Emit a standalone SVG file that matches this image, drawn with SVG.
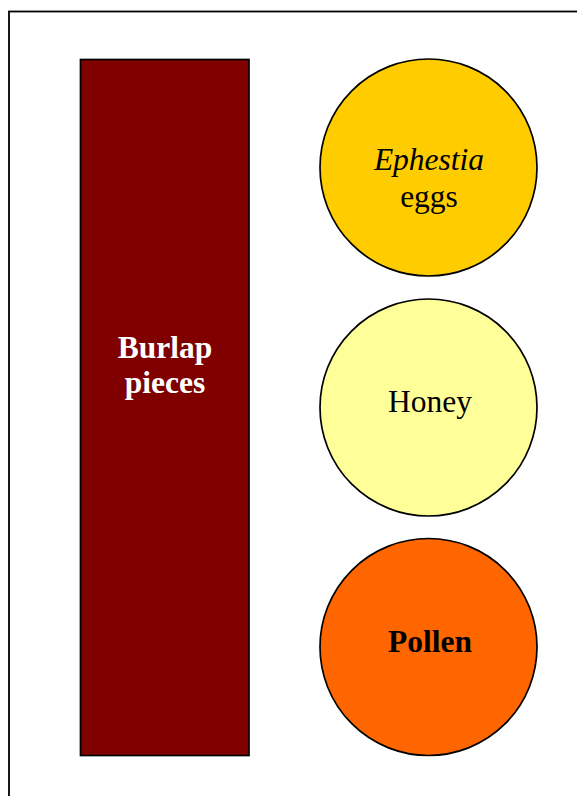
<svg xmlns="http://www.w3.org/2000/svg" width="577" height="796" viewBox="0 0 577 796">
<style>
.t{font-family:"Liberation Serif","Times New Roman",serif;font-size:31.5px;text-anchor:middle}
.c{stroke:#000;stroke-width:1.7}
</style>
<rect width="577" height="796" fill="#fff"/>
<rect x="9" y="11.5" width="600" height="820" fill="none" stroke="#000" stroke-width="1.8"/>
<g id="burlap">
<rect x="80.5" y="59.5" width="168.5" height="696" fill="#800000" stroke="#000" stroke-width="1.7"/>
<text class="t" x="165" y="358" fill="#fff" font-weight="bold">Burlap</text>
<text class="t" x="165" y="393" fill="#fff" font-weight="bold">pieces</text>
</g>
<g id="eggs">
<circle class="c" cx="428.5" cy="167.5" r="108.5" fill="#FFCC00"/>
<text class="t" x="429" y="170" font-style="italic">Ephestia</text>
<text class="t" x="429" y="207">eggs</text>
</g>
<g id="honey">
<circle class="c" cx="428.5" cy="407.5" r="108.5" fill="#FFFF99"/>
<text class="t" x="430" y="412">Honey</text>
</g>
<g id="pollen">
<circle class="c" cx="428.5" cy="647" r="108.5" fill="#FF6600"/>
<text class="t" x="430" y="652" font-weight="bold">Pollen</text>
</g>
<g id="connectors"/>
</svg>
